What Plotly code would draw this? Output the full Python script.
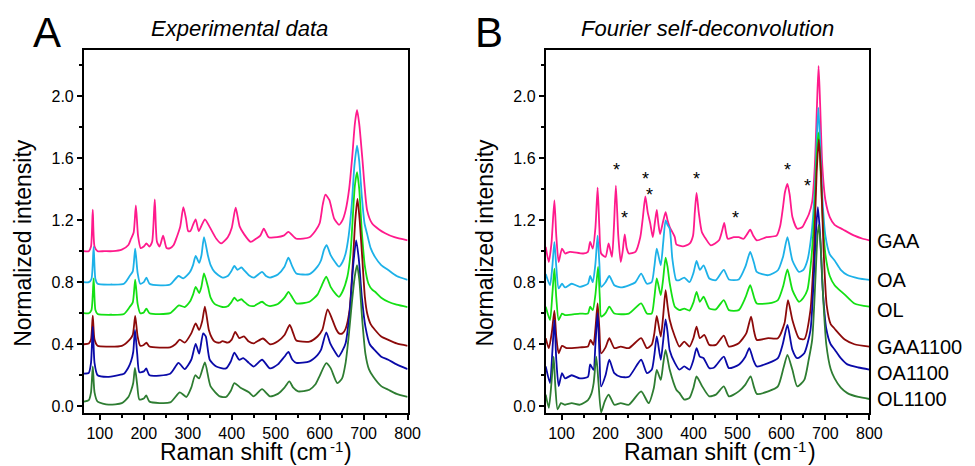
import plotly.graph_objects as go

# ---------------- Panel A: experimental data ----------------
A_GAA_x = [64, 75, 80, 84, 88, 95, 110, 130, 150, 165, 171, 177, 182, 187, 193, 200, 206, 213, 219, 225, 230, 236, 244, 252, 260, 268, 275, 283, 290, 296, 301, 306, 312, 318, 325, 332, 339, 350, 365, 376, 391, 400, 409, 418, 428, 443, 455, 465, 473, 484, 503, 518, 529, 547, 577, 590, 600, 607, 613, 622, 633, 644, 652, 659, 667, 674, 680, 685, 690, 697, 708, 719, 735, 749, 770, 800]
A_GAA_y = [1.0, 1.0, 1.03, 1.267, 1.03, 1.0, 1.0, 1.0, 1.01, 1.04, 1.08, 1.12, 1.295, 1.10, 1.02, 1.03, 1.05, 1.03, 1.06, 1.333, 1.06, 1.03, 1.10, 1.02, 1.02, 1.04, 1.09, 1.16, 1.284, 1.21, 1.13, 1.13, 1.17, 1.205, 1.13, 1.17, 1.205, 1.155, 1.08, 1.05, 1.09, 1.15, 1.28, 1.16, 1.11, 1.06, 1.08, 1.10, 1.145, 1.09, 1.09, 1.10, 1.124, 1.08, 1.09, 1.13, 1.18, 1.30, 1.365, 1.33, 1.21, 1.17, 1.20, 1.263, 1.40, 1.605, 1.82, 1.91, 1.82, 1.60, 1.263, 1.18, 1.14, 1.116, 1.09, 1.07]

A_OA_x = [64, 75, 81, 86, 90, 95, 126, 155, 168, 175, 180.5, 186, 192, 200, 206, 213, 238, 260, 279, 290, 305, 312, 318, 326, 331, 337, 346, 352, 361, 379, 391, 399, 406, 413, 422, 428, 439, 450.6, 469, 478, 487, 505, 520, 529, 538, 547, 577, 595, 603, 610, 616, 625, 635, 644, 652, 659, 666, 673, 679, 685, 690, 696, 702, 708, 716, 726.5, 740, 756, 775, 800]
A_OA_y = [0.80, 0.80, 0.82, 1.027, 0.82, 0.79, 0.785, 0.79, 0.84, 0.87, 1.016, 0.86, 0.79, 0.80, 0.83, 0.79, 0.78, 0.785, 0.84, 0.825, 0.866, 0.91, 0.97, 0.925, 0.97, 1.09, 0.97, 0.91, 0.866, 0.83, 0.84, 0.87, 0.905, 0.88, 0.895, 0.878, 0.845, 0.83, 0.866, 0.84, 0.83, 0.85, 0.90, 0.958, 0.90, 0.856, 0.852, 0.90, 0.94, 1.01, 1.038, 0.974, 0.93, 0.90, 0.93, 0.985, 1.10, 1.30, 1.55, 1.68, 1.58, 1.35, 1.18, 1.11, 1.02, 0.96, 0.91, 0.878, 0.84, 0.815]

A_OL_x = [64, 75, 81, 86, 90, 95, 126, 155, 168, 175, 180.5, 186, 192, 200, 206, 213, 260, 280, 293, 305, 312, 318, 326, 331, 337, 346, 352, 361, 379, 391, 399, 406, 413, 422, 428, 439, 450, 469, 478, 487, 505, 520, 529, 538, 547, 577, 595, 605, 615, 625, 635, 644, 652, 663, 670, 676, 680, 685, 690, 696, 703, 711, 720, 726, 740, 756, 775, 800]
A_OL_y = [0.60, 0.60, 0.62, 0.825, 0.62, 0.595, 0.59, 0.595, 0.64, 0.67, 0.817, 0.66, 0.60, 0.605, 0.63, 0.60, 0.60, 0.65, 0.64, 0.675, 0.72, 0.77, 0.73, 0.77, 0.856, 0.77, 0.70, 0.66, 0.64, 0.645, 0.67, 0.70, 0.68, 0.69, 0.675, 0.65, 0.646, 0.674, 0.655, 0.646, 0.66, 0.70, 0.738, 0.70, 0.663, 0.674, 0.72, 0.78, 0.835, 0.77, 0.73, 0.706, 0.74, 0.835, 0.98, 1.25, 1.42, 1.51, 1.40, 1.12, 0.90, 0.79, 0.75, 0.738, 0.70, 0.674, 0.655, 0.64]

A_GAA1100_x = [64, 75, 80, 84, 88, 95, 117, 150, 168, 175, 180.5, 186, 192, 200, 206, 213, 260, 272, 282, 293, 308, 318, 326, 333, 339, 348, 355, 361, 372, 379, 391, 400, 408, 417, 428, 439, 450, 471, 487, 505, 520, 532, 540, 547, 577, 595, 606, 618, 629, 637, 644, 652, 659, 668, 676, 681, 686, 691, 697, 703, 708, 716, 726, 740, 756, 775, 800]
A_GAA1100_y = [0.40, 0.405, 0.43, 0.585, 0.43, 0.39, 0.385, 0.39, 0.43, 0.46, 0.582, 0.45, 0.39, 0.395, 0.41, 0.385, 0.38, 0.40, 0.43, 0.41, 0.47, 0.535, 0.492, 0.55, 0.642, 0.492, 0.44, 0.417, 0.41, 0.42, 0.41, 0.43, 0.48, 0.44, 0.45, 0.417, 0.406, 0.437, 0.40, 0.42, 0.46, 0.524, 0.47, 0.424, 0.417, 0.45, 0.492, 0.625, 0.557, 0.50, 0.47, 0.47, 0.50, 0.62, 0.95, 1.20, 1.337, 1.20, 0.95, 0.70, 0.60, 0.53, 0.492, 0.45, 0.428, 0.405, 0.39]

A_OA1100_x = [64, 75, 80, 84, 88, 95, 117, 140, 155, 165, 171, 176, 180, 185, 190, 200, 205.6, 213, 260, 279, 293, 308, 318, 326, 335, 341, 350, 365, 387, 398, 406, 417, 426, 439, 450, 469, 487, 505, 520, 529, 538, 547, 577, 595, 603, 615, 624, 633, 643, 652, 659, 668, 676, 683, 689, 696, 704, 714, 726, 740, 756, 775, 800]
A_OA1100_y = [0.21, 0.215, 0.28, 0.514, 0.28, 0.20, 0.19, 0.20, 0.21, 0.25, 0.29, 0.35, 0.492, 0.34, 0.22, 0.225, 0.244, 0.20, 0.21, 0.28, 0.24, 0.30, 0.402, 0.34, 0.47, 0.45, 0.30, 0.256, 0.244, 0.29, 0.346, 0.30, 0.31, 0.28, 0.256, 0.30, 0.244, 0.27, 0.32, 0.35, 0.30, 0.28, 0.29, 0.33, 0.363, 0.477, 0.406, 0.36, 0.32, 0.36, 0.406, 0.60, 0.90, 1.07, 0.95, 0.70, 0.514, 0.40, 0.36, 0.32, 0.30, 0.27, 0.24]

A_OL1100_x = [64, 75, 80, 84, 88, 95, 120, 150, 165, 171, 176, 180, 185, 190, 200, 205.6, 213, 260, 282, 297, 308, 317, 326, 339, 352, 373, 387, 398, 406, 420, 439, 450, 469, 487, 505, 520, 531, 540, 551, 577, 590, 599, 615, 625, 640, 651, 659, 666, 673, 680, 685, 690, 697, 704, 712, 722, 740, 756, 775, 800]
A_OL1100_y = [0.03, 0.04, 0.09, 0.257, 0.09, 0.03, 0.011, 0.02, 0.06, 0.10, 0.15, 0.247, 0.14, 0.043, 0.05, 0.07, 0.03, 0.025, 0.09, 0.06, 0.12, 0.20, 0.18, 0.283, 0.128, 0.064, 0.06, 0.10, 0.15, 0.12, 0.09, 0.064, 0.11, 0.064, 0.08, 0.12, 0.16, 0.12, 0.096, 0.107, 0.14, 0.19, 0.278, 0.246, 0.15, 0.18, 0.28, 0.45, 0.66, 0.84, 0.91, 0.82, 0.55, 0.34, 0.24, 0.19, 0.13, 0.107, 0.08, 0.06]

# ---------------- Panel B: Fourier self-deconvolution ----------------
B_GAA_x = [64, 71, 77, 83.7, 88, 93.4, 101, 108, 119, 149, 160, 165, 171, 177, 182, 186, 190, 200, 207, 214.6, 219, 223.5, 229, 234.6, 239, 243.6, 248, 253, 268, 279, 285, 290.5, 296, 301.6, 307.6, 312, 316.5, 320, 324, 330, 336.6, 341, 346, 357.6, 361, 376, 391, 399, 403, 407, 412, 419, 428, 439.6, 458, 465, 470, 474, 478, 491.6, 503, 514, 522, 529, 536, 544, 566, 589, 597, 603.6, 608, 613.7, 619, 625, 636, 647.7, 656, 662.6, 670, 676, 681, 684.5, 688, 693, 700, 710, 721, 740, 766, 785, 800]
B_GAA_y = [1.027, 0.93, 1.05, 1.327, 1.10, 0.93, 1.017, 0.985, 0.996, 0.985, 0.996, 1.06, 1.017, 1.15, 1.41, 1.15, 0.985, 0.963, 1.05, 0.963, 1.15, 1.423, 1.10, 0.93, 1.00, 1.108, 1.02, 0.985, 0.996, 1.09, 1.22, 1.353, 1.25, 1.18, 1.09, 1.18, 1.266, 1.18, 1.11, 1.18, 1.252, 1.20, 1.156, 1.09, 1.044, 1.031, 1.048, 1.10, 1.25, 1.376, 1.25, 1.124, 1.08, 1.037, 1.07, 1.13, 1.183, 1.12, 1.08, 1.09, 1.09, 1.08, 1.11, 1.138, 1.10, 1.07, 1.09, 1.10, 1.16, 1.284, 1.38, 1.434, 1.36, 1.22, 1.145, 1.156, 1.20, 1.24, 1.32, 1.55, 1.95, 2.194, 1.95, 1.55, 1.33, 1.22, 1.17, 1.14, 1.10, 1.08, 1.07]

B_OA_x = [64, 73.7, 79, 83.7, 88, 93.4, 101, 108, 123, 141.7, 160, 165, 171, 177, 182, 186, 190, 200, 208.6, 220, 234.6, 253, 268, 281, 294, 305, 311, 316.5, 325.6, 331, 336.6, 341, 346, 352, 361, 368, 379, 391, 400, 407, 414.5, 423, 436, 451, 469, 480.6, 503, 518, 529, 538, 544, 570, 592, 603.6, 613.7, 625, 640, 650, 659, 668, 676, 680, 684, 688, 693, 700, 710, 721, 735, 750, 775, 800]
B_OA_y = [0.852, 0.78, 0.90, 1.06, 0.90, 0.76, 0.79, 0.766, 0.79, 0.77, 0.79, 0.84, 0.80, 0.92, 1.10, 0.92, 0.77, 0.80, 0.84, 0.78, 0.766, 0.78, 0.80, 0.855, 0.79, 0.80, 0.90, 1.016, 0.909, 1.05, 1.199, 1.17, 1.145, 0.95, 0.813, 0.813, 0.83, 0.80, 0.86, 0.937, 0.88, 0.909, 0.824, 0.813, 0.88, 0.818, 0.818, 0.90, 0.995, 0.92, 0.866, 0.845, 0.877, 0.963, 1.09, 0.94, 0.866, 0.88, 0.94, 1.10, 1.40, 1.70, 1.926, 1.70, 1.35, 1.10, 0.98, 0.94, 0.88, 0.846, 0.825, 0.815]

B_OL_x = [64, 73.7, 79, 83.7, 88, 93.4, 101, 108, 141.7, 160, 165, 171, 177, 183, 187, 190, 200, 208.6, 220, 253, 281, 294, 305, 311, 316.5, 325.6, 331, 336.6, 341, 346, 357.6, 368, 379, 391, 400, 407, 414.5, 423, 436, 451, 469, 480.6, 503, 518, 529, 538, 544, 570, 592, 603.6, 613.7, 625, 640, 650, 659, 668, 676, 680, 684, 688, 693, 700, 710, 721, 728, 744, 766, 800]
B_OL_y = [0.642, 0.556, 0.72, 0.888, 0.70, 0.556, 0.598, 0.588, 0.598, 0.598, 0.642, 0.62, 0.72, 0.899, 0.70, 0.578, 0.60, 0.642, 0.598, 0.598, 0.663, 0.598, 0.598, 0.70, 0.824, 0.717, 0.82, 0.959, 0.90, 0.792, 0.642, 0.62, 0.63, 0.617, 0.67, 0.738, 0.674, 0.706, 0.63, 0.625, 0.685, 0.62, 0.62, 0.70, 0.781, 0.70, 0.663, 0.663, 0.685, 0.77, 0.882, 0.749, 0.674, 0.70, 0.749, 0.95, 1.30, 1.60, 1.766, 1.60, 1.25, 0.98, 0.84, 0.78, 0.76, 0.72, 0.663, 0.642]

B_GAA1100_x = [64, 71, 78, 83.7, 88, 93.4, 101, 112, 141.7, 160, 166, 172.6, 177, 182, 186, 190, 200, 208.6, 220, 234.6, 253, 281, 294, 305, 311, 316.5, 325.6, 331, 336.6, 341, 346, 357.6, 368, 379, 391, 400, 407, 414.5, 424.6, 436, 451, 469, 480.6, 503, 520, 531, 538, 544, 570, 592, 607, 615, 625, 640, 652, 666, 674, 680, 685, 690, 696, 703, 712, 721, 744, 766, 800]
B_GAA1100_y = [0.439, 0.375, 0.48, 0.616, 0.45, 0.342, 0.39, 0.375, 0.38, 0.385, 0.428, 0.396, 0.50, 0.663, 0.50, 0.342, 0.38, 0.439, 0.375, 0.385, 0.375, 0.439, 0.375, 0.396, 0.47, 0.582, 0.45, 0.58, 0.749, 0.65, 0.556, 0.45, 0.385, 0.417, 0.385, 0.44, 0.514, 0.439, 0.46, 0.396, 0.396, 0.456, 0.385, 0.407, 0.47, 0.578, 0.48, 0.428, 0.439, 0.439, 0.535, 0.685, 0.556, 0.439, 0.433, 0.62, 1.00, 1.50, 1.72, 1.50, 1.00, 0.65, 0.53, 0.50, 0.43, 0.40, 0.385]

B_OA1100_x = [64, 73.7, 79, 83.7, 88, 93.4, 101, 108, 123, 141.7, 160, 165, 172.6, 177, 182, 186, 190, 200, 208.6, 220, 234.6, 253, 281, 294, 305, 311, 316.5, 325.6, 331, 336.6, 341, 346, 357.6, 368, 379, 391, 400, 407, 414.5, 423, 436, 447, 469, 480.6, 503, 518, 527, 536, 544, 570, 592, 603, 613.7, 625, 636, 652, 666, 674, 679, 683, 688, 694, 702, 712, 721, 735, 750, 775, 800]
B_OA1100_y = [0.257, 0.15, 0.35, 0.556, 0.30, 0.13, 0.214, 0.18, 0.20, 0.18, 0.19, 0.27, 0.235, 0.40, 0.60, 0.35, 0.128, 0.20, 0.30, 0.214, 0.19, 0.19, 0.30, 0.214, 0.235, 0.33, 0.45, 0.30, 0.42, 0.56, 0.48, 0.36, 0.28, 0.236, 0.257, 0.236, 0.30, 0.375, 0.32, 0.31, 0.246, 0.25, 0.32, 0.246, 0.268, 0.32, 0.375, 0.30, 0.257, 0.278, 0.31, 0.40, 0.525, 0.364, 0.31, 0.342, 0.49, 0.85, 1.15, 1.284, 1.10, 0.75, 0.50, 0.40, 0.366, 0.31, 0.27, 0.25, 0.237]

B_OL1100_x = [64, 71, 77, 82, 86, 91, 98.6, 108, 123, 141.7, 160, 167.6, 173, 179, 184, 190, 198, 207, 220, 234.6, 253, 281, 298, 310, 316.5, 325.6, 331, 336.6, 346, 361, 368, 379, 391, 400, 407, 419, 436, 451, 469, 480.6, 503, 518, 530, 538, 544, 570, 592, 605, 613.7, 625, 636, 652, 662, 670, 677, 682, 685, 689, 695, 702, 712, 721, 735, 750, 775, 800]
B_OL1100_y = [0.075, -0.01, 0.15, 0.32, 0.12, -0.02, 0.02, 0.01, 0.02, 0.01, 0.04, 0.08, 0.15, 0.32, 0.15, -0.04, 0.03, 0.075, 0.01, 0.02, 0.01, 0.096, 0.02, 0.12, 0.235, 0.17, 0.27, 0.364, 0.235, 0.107, 0.086, 0.043, 0.054, 0.12, 0.193, 0.133, 0.064, 0.075, 0.128, 0.064, 0.096, 0.14, 0.193, 0.12, 0.08, 0.096, 0.128, 0.25, 0.332, 0.235, 0.128, 0.17, 0.30, 0.43, 0.80, 1.10, 1.17, 1.05, 0.70, 0.40, 0.24, 0.18, 0.12, 0.085, 0.06, 0.047]

# labels, colours, annotations
series_names = ["GAA", "OA", "OL", "GAA1100", "OA1100", "OL1100"]
series_colors = ["#FF1A8C", "#1DB1E8", "#14E014", "#8C0A0A", "#0A0AA8", "#2E7D32"]
label_y = [1.066, 0.817, 0.623, 0.385, 0.212, 0.045]
star_x = [225.8, 244, 290.5, 300, 407.8, 496, 614, 658.5]
star_y = [1.494, 1.18, 1.43, 1.333, 1.434, 1.18, 1.488, 1.385]
x_tick_vals = [100, 200, 300, 400, 500, 600, 700, 800]
y_tick_vals = [0.0, 0.4, 0.8, 1.2, 1.6, 2.0]

panelA = [(A_GAA_x, A_GAA_y), (A_OA_x, A_OA_y), (A_OL_x, A_OL_y),
          (A_GAA1100_x, A_GAA1100_y), (A_OA1100_x, A_OA1100_y), (A_OL1100_x, A_OL1100_y)]
panelB = [(B_GAA_x, B_GAA_y), (B_OA_x, B_OA_y), (B_OL_x, B_OL_y),
          (B_GAA1100_x, B_GAA1100_y), (B_OA1100_x, B_OA1100_y), (B_OL1100_x, B_OL1100_y)]

FONT = "Liberation Sans, Arial, sans-serif"
W, H = 975, 466

fig = go.Figure()
for (xs, ys), name, col in zip(panelA, series_names, series_colors):
    fig.add_trace(go.Scatter(x=xs, y=ys, mode="lines", name=name, showlegend=False,
                             line=dict(color=col, width=1.8, shape="spline", smoothing=0.6),
                             xaxis="x", yaxis="y"))
for (xs, ys), name, col in zip(panelB, series_names, series_colors):
    fig.add_trace(go.Scatter(x=xs, y=ys, mode="lines", name=name, showlegend=False,
                             line=dict(color=col, width=1.8, shape="spline", smoothing=0.6),
                             xaxis="x2", yaxis="y2"))

def px_x(p):
    return p / W

def px_y(p):
    return 1 - p / H

xdomA = [px_x(77), px_x(405)]
xdomB = [px_x(545), px_x(873)]
ydom = [px_y(406.7), px_y(41.7)]

axis_common = dict(showline=True, linewidth=2, linecolor="black", mirror=True,
                   ticks="outside", ticklen=5, tickwidth=1.5, tickcolor="black",
                   showgrid=False, zeroline=False,
                   tickfont=dict(family=FONT, size=16, color="black"))

xaxis_style = dict(axis_common, range=[64, 800], tickvals=x_tick_vals,
                   minor=dict(dtick=50, tick0=0, ticklen=3, tickwidth=1.5, tickcolor="black", ticks="outside"))
yaxis_style = dict(axis_common, range=[-0.043, 2.30], tickvals=y_tick_vals, tickformat=".1f",
                   minor=dict(dtick=0.2, tick0=0, ticklen=3, tickwidth=1.5, tickcolor="black", ticks="outside"))

fig.update_layout(
    width=W, height=H, margin=dict(l=0, r=0, t=0, b=0),
    paper_bgcolor="white", plot_bgcolor="white",
    xaxis=dict(xaxis_style, domain=xdomA, anchor="y"),
    yaxis=dict(yaxis_style, domain=ydom, anchor="x"),
    xaxis2=dict(xaxis_style, domain=xdomB, anchor="y2"),
    yaxis2=dict(yaxis_style, domain=ydom, anchor="x2"),
)

ann = []
# panel letters
ann.append(dict(text="A", x=px_x(40), y=px_y(25), xref="paper", yref="paper", showarrow=False,
                xanchor="center", yanchor="middle", font=dict(family=FONT, size=42, color="black")))
ann.append(dict(text="B", x=px_x(488), y=px_y(25), xref="paper", yref="paper", showarrow=False,
                xanchor="center", yanchor="middle", font=dict(family=FONT, size=42, color="black")))
# panel titles
ann.append(dict(text="<i>Experimental data</i>", x=px_x(235), y=px_y(21), xref="paper", yref="paper",
                showarrow=False, xanchor="center", yanchor="middle", font=dict(family=FONT, size=22, color="black")))
ann.append(dict(text="<i>Fourier self-deconvolution</i>", x=px_x(709), y=px_y(21), xref="paper", yref="paper",
                showarrow=False, xanchor="center", yanchor="middle", font=dict(family=FONT, size=22, color="black")))

# x-axis titles "Raman shift (cm-1)" built from three pieces (superscript kept small)
MAIN_SIZE, SUP_SIZE = 23, 15
main_w = 7.279 * MAIN_SIZE      # "Raman shift (cm"
sup_w = 0.889 * SUP_SIZE        # "-1"
par_w = 0.333 * MAIN_SIZE       # ")"
total_w = main_w + sup_w + par_w + 1.5
for cx in (252, 722):
    left = cx - total_w / 2
    ann.append(dict(text="Raman shift (cm", x=px_x(left + main_w), y=px_y(446), xref="paper", yref="paper",
                    showarrow=False, xanchor="right", yanchor="middle", borderpad=0,
                    font=dict(family=FONT, size=MAIN_SIZE, color="black")))
    ann.append(dict(text="-1", x=px_x(left + main_w + 0.5), y=px_y(440.5), xref="paper", yref="paper",
                    showarrow=False, xanchor="left", yanchor="middle", borderpad=0,
                    font=dict(family=FONT, size=SUP_SIZE, color="black")))
    ann.append(dict(text=")", x=px_x(left + main_w + sup_w + 1.5), y=px_y(446), xref="paper", yref="paper",
                    showarrow=False, xanchor="left", yanchor="middle", borderpad=0,
                    font=dict(family=FONT, size=MAIN_SIZE, color="black")))

for cx in (15, 483):
    ann.append(dict(text="Normalized intensity", x=px_x(cx), y=px_y(236), xref="paper", yref="paper",
                    showarrow=False, textangle=-90, xanchor="center", yanchor="middle",
                    font=dict(family=FONT, size=23, color="black")))
# series labels at right of panel B
for name, ly in zip(series_names, label_y):
    ann.append(dict(text=name, x=800, y=ly, xref="x2", yref="y2", showarrow=False,
                    xanchor="left", yanchor="middle", xshift=6,
                    font=dict(family=FONT, size=20, color="black")))
# asterisks
for sx, sy in zip(star_x, star_y):
    ann.append(dict(text="*", x=sx, y=sy, xref="x2", yref="y2", showarrow=False,
                    xanchor="center", yanchor="middle", yshift=5,
                    font=dict(family=FONT, size=18, color="black")))

fig.update_layout(annotations=ann)
fig.write_html("out.html")
